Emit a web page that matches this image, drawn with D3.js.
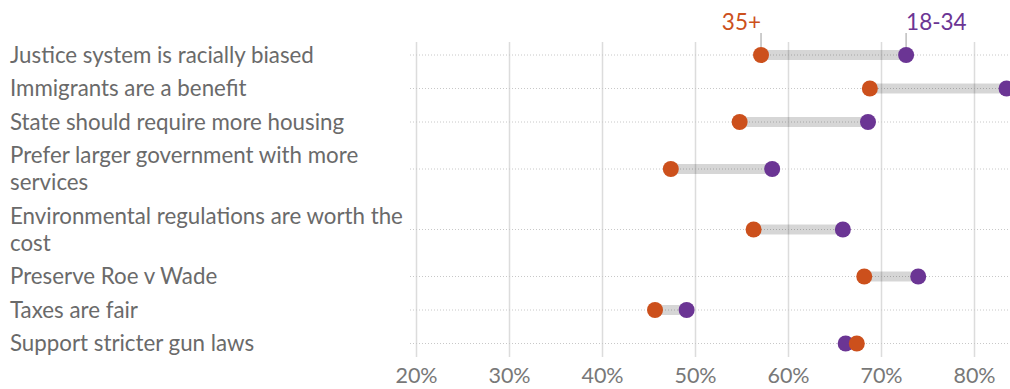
<!DOCTYPE html>
<html>
<head>
<meta charset="utf-8">
<script src="https://cdn.jsdelivr.net/npm/d3@7"></script>
<style>
  html, body { margin: 0; padding: 0; background: #fff; }
  svg { display: block; }
  text { font-family: Lato, "Open Sans", sans-serif; }
</style>
</head>
<body>
<svg id="chart" width="1010" height="389"></svg>
<script>
// ---- data ----
const categories = [
  "Justice system is racially biased",
  "Immigrants are a benefit",
  "State should require more housing",
  "Prefer larger government with more services",
  "Environmental regulations are worth the cost",
  "Preserve Roe v Wade",
  "Taxes are fair",
  "Support stricter gun laws"
];
const older = [57.1, 68.8, 54.8, 47.4, 56.3, 68.2, 45.7, 67.4];   // 35+
const younger = [72.7, 83.5, 68.6, 58.3, 65.9, 74.0, 49.1, 66.2]; // 18-34
const seriesNames = ["35+", "18-34"];
const xTicks = [20, 30, 40, 50, 60, 70, 80];

// ---- setup ----
const W = 1010, H = 389;
const svg = d3.select("#chart");
const colOld = "#cc501c", colYoung = "#6b3594";
const labelColor = "#6a6a6a";
const labelSize = 22.3;

const x = d3.scaleLinear().domain([20, 80]).range([416, 974]);

// wrap labels
const maxLabelW = 405;
const measure = svg.append("text").attr("font-size", labelSize).attr("visibility", "hidden");
function wrap(str) {
  const words = str.split(" ");
  const lines = [];
  let cur = "";
  words.forEach(w => {
    const t = cur ? cur + " " + w : w;
    measure.text(t);
    if (measure.node().getComputedTextLength() > maxLabelW && cur) {
      lines.push(cur); cur = w;
    } else cur = t;
  });
  lines.push(cur);
  return lines;
}
const wrapped = categories.map(wrap);
measure.remove();

// vertical layout in "line units": single row = 1 unit, extra lines add lineExtra units
const lineExtra = 27 / 33.5;
const rowSizes = wrapped.map(l => 1 + (l.length - 1) * lineExtra);
const centers = [];
let acc = 0;
rowSizes.forEach(s => { centers.push(acc + s / 2); acc += s; });
const y = d3.scaleLinear().domain([0.5, centers[centers.length - 1]]).range([55, 343.5]);

// ---- gridlines + axis ----
const axisY = 357;
const axis = d3.axisBottom(x)
  .tickValues(xTicks)
  .tickFormat(d => d + "%")
  .tickSizeInner(-(axisY - 42))
  .tickSizeOuter(0)
  .tickPadding(11);
const gAxis = svg.append("g").attr("transform", `translate(0,${axisY})`).call(axis);
gAxis.select(".domain").remove();
gAxis.selectAll(".tick line").attr("stroke", "#dcdcdc").attr("stroke-width", 1.5);
gAxis.selectAll(".tick text")
  .attr("fill", "#787878")
  .attr("font-size", 21.5)
  .attr("font-family", "Lato, 'Open Sans', sans-serif");

// dotted row lines
svg.append("g").selectAll("line").data(categories).join("line")
  .attr("x1", 410).attr("x2", W)
  .attr("y1", (d, i) => y(centers[i])).attr("y2", (d, i) => y(centers[i]))
  .attr("stroke", "#c8c8c8").attr("stroke-width", 1)
  .attr("stroke-dasharray", "1,2");

// bars between dots
svg.append("g").selectAll("line").data(categories).join("line")
  .attr("x1", (d, i) => x(older[i])).attr("x2", (d, i) => x(younger[i]))
  .attr("y1", (d, i) => y(centers[i])).attr("y2", (d, i) => y(centers[i]))
  .attr("stroke", "#000").attr("stroke-opacity", 0.16).attr("stroke-width", 10);

// row labels
const gLab = svg.append("g");
wrapped.forEach((lines, i) => {
  const cy = y(centers[i]);
  const lh = 27;
  const t = gLab.append("text")
    .attr("x", 10)
    .attr("fill", labelColor)
    .attr("font-size", labelSize);
  lines.forEach((ln, j) => {
    t.append("tspan")
      .attr("x", 10)
      .attr("y", cy + (j - (lines.length - 1) / 2) * lh)
      .attr("dy", "0.35em")
      .text(ln);
  });
});

// series labels above first row
const r0 = y(centers[0]);
svg.append("line")
  .attr("x1", x(older[0])).attr("x2", x(older[0]))
  .attr("y1", 33).attr("y2", r0 - 8)
  .attr("stroke", "#bdbdbd").attr("stroke-width", 1.5);
svg.append("line")
  .attr("x1", x(younger[0])).attr("x2", x(younger[0]))
  .attr("y1", 33).attr("y2", r0 - 8)
  .attr("stroke", "#bdbdbd").attr("stroke-width", 1.5);
svg.append("text")
  .attr("x", x(older[0])).attr("y", 30)
  .attr("text-anchor", "end")
  .attr("fill", colOld).attr("font-size", 22.5)
  .text(seriesNames[0]);
svg.append("text")
  .attr("x", x(younger[0])).attr("y", 30)
  .attr("text-anchor", "start")
  .attr("fill", colYoung).attr("font-size", 22.5)
  .text(seriesNames[1]);

// dots
svg.append("g").selectAll("circle").data(younger).join("circle")
  .attr("cx", d => x(d)).attr("cy", (d, i) => y(centers[i]))
  .attr("r", 8).attr("fill", colYoung);
svg.append("g").selectAll("circle").data(older).join("circle")
  .attr("cx", d => x(d)).attr("cy", (d, i) => y(centers[i]))
  .attr("r", 8).attr("fill", colOld);
</script>
</body>
</html>
